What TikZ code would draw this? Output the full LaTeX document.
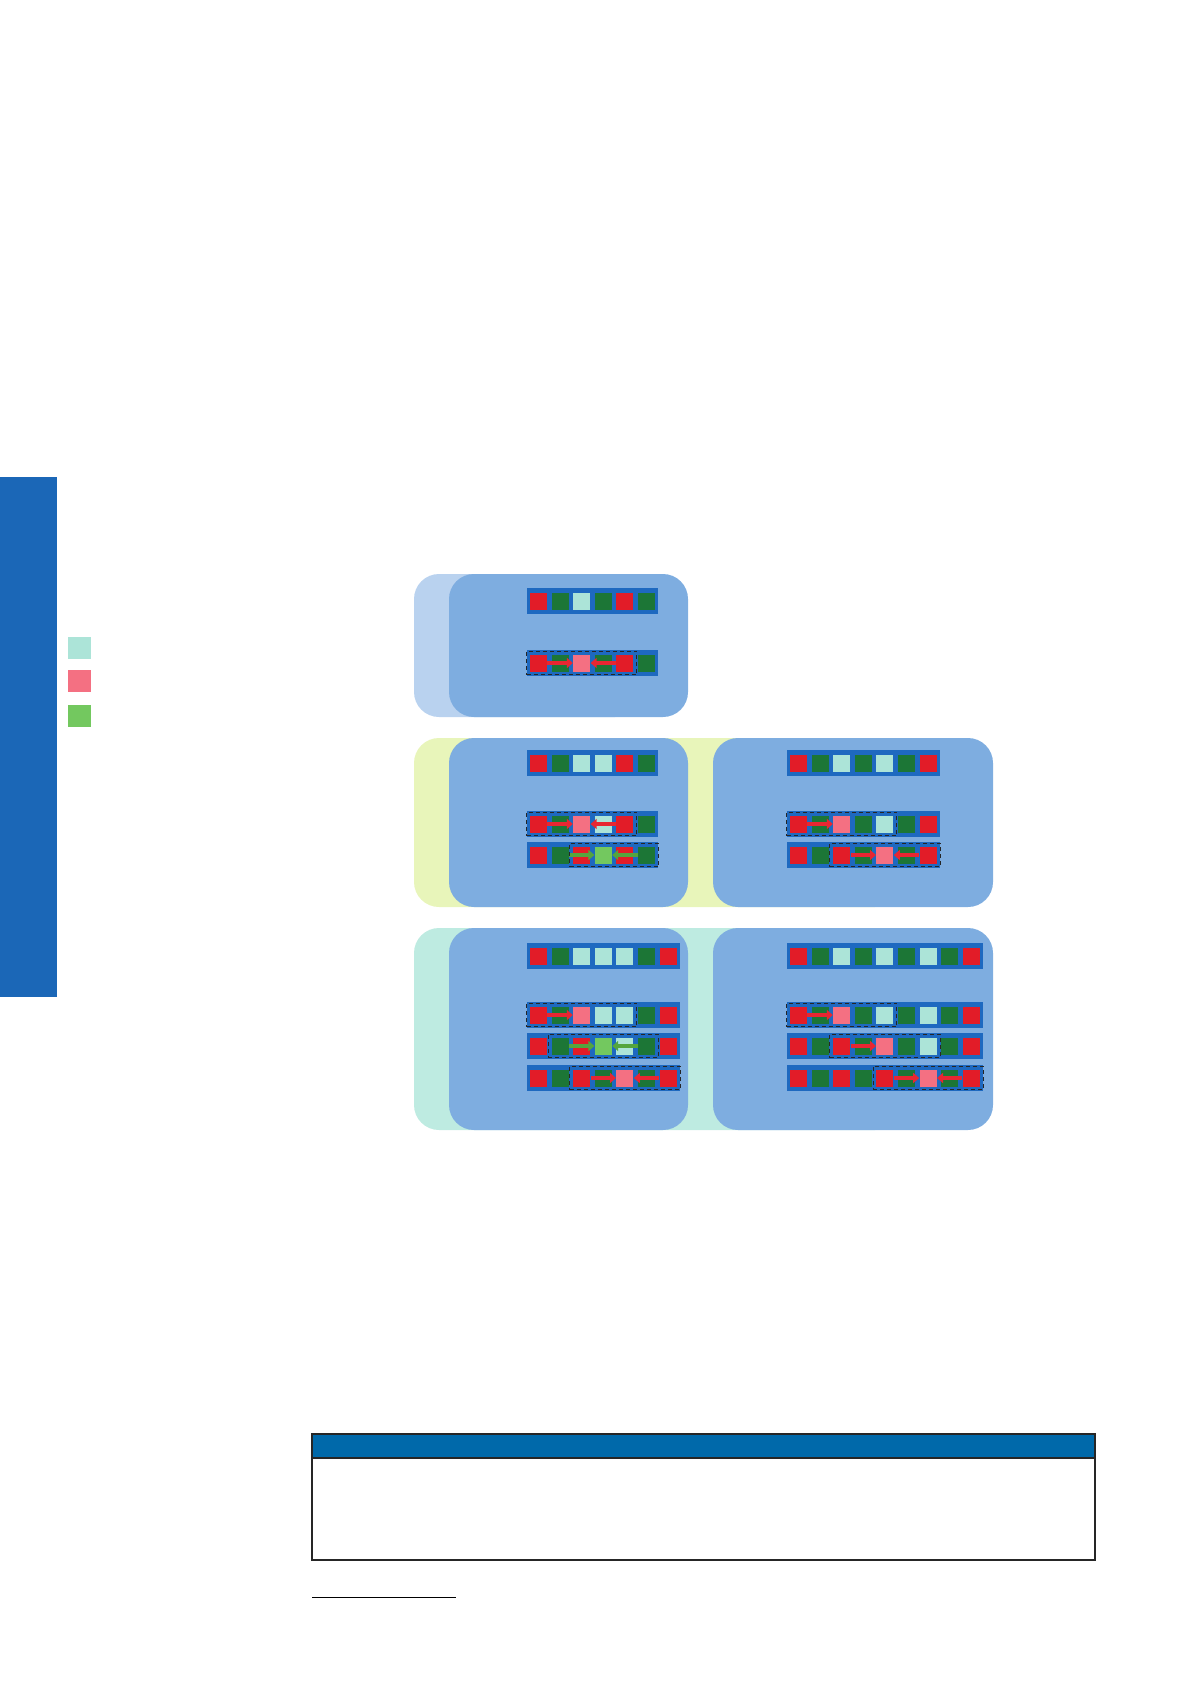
\documentclass[tikz,border=0pt]{standalone}
\usepackage{tikz}
\usetikzlibrary{arrows.meta,fit}

\definecolor{sideblue}{RGB}{27,103,183}
\definecolor{outerblue}{RGB}{185,210,239}
\definecolor{outeryellow}{RGB}{232,245,186}
\definecolor{outermint}{RGB}{190,235,225}
\definecolor{panelblue}{RGB}{126,173,224}
\definecolor{barblue}{RGB}{30,105,192}
\definecolor{cr}{RGB}{226,28,40}
\definecolor{cg}{RGB}{28,118,54}
\definecolor{cc}{RGB}{172,228,216}
\definecolor{cp}{RGB}{244,112,130}
\definecolor{cl}{RGB}{115,200,95}
\definecolor{arrred}{RGB}{232,38,50}
\definecolor{arrgreen}{RGB}{84,165,62}
\definecolor{tablehead}{RGB}{0,105,170}

% one slot row: name, x, y, number of cells, cell colours
\newcommand{\slotrow}[5]{%
  \fill[barblue] (#2,#3) rectangle ++({#4*21.6+1.6},26);
  \foreach \c [count=\i] in {#5}
    \node[cell, fill=\c] (#1-\i) at ({#2+11.5+(\i-1)*21.6},#3+13) {};
}

\begin{document}
\begin{tikzpicture}[x=0.5pt, y=-0.5pt,
    cell/.style={rectangle, minimum size=8.5pt, inner sep=0pt},
    key/.style={rectangle, minimum width=11.5pt, minimum height=11pt, inner sep=0pt},
    panel/.style={rounded corners=12.5pt},
    redarr/.style={draw=arrred, line width=1.8pt, -{Triangle[length=3pt,width=5pt]}},
    greenarr/.style={draw=arrgreen, line width=1.8pt, -{Triangle[length=3pt,width=5pt]}},
    dashbox/.style={draw=black!85, dash pattern=on 2pt off 1.5pt, line width=0.5pt, inner sep=1.5pt}]
\useasboundingbox (0,0) rectangle (1191,1684);

% side tab and legend
\fill[sideblue] (0,477) rectangle (57,997);
\node[key, fill=cc] (key1) at (79.5,647.5) {};
\node[key, fill=cp] (key2) at (79.5,681) {};
\node[key, fill=cl] (key3) at (79.5,715.5) {};

% panels
\fill[outerblue, panel] (414,574) rectangle (640,717);
\fill[panelblue, panel] (449,574) rectangle (688,717);
\fill[outeryellow, panel] (414,738) rectangle (900,907);
\fill[panelblue, panel] (449,738) rectangle (688,907);
\fill[panelblue, panel] (713,738) rectangle (993,907);
\fill[outermint, panel] (414,928) rectangle (900,1130);
\fill[panelblue, panel] (449,928) rectangle (688,1130);
\fill[panelblue, panel] (713,928) rectangle (993,1130);

% top panel
\slotrow{A1}{527}{588}{6}{cr,cg,cc,cg,cr,cg}
\slotrow{A2}{527}{650}{6}{cr,cg,cp,cg,cr,cg}
\draw[redarr] (A2-1.east) -- (A2-3.west);
\draw[redarr] (A2-5.west) -- (A2-3.east);
\node[dashbox, fit=(A2-1)(A2-5)] (A2box) {};

% middle panels
\slotrow{Bl1}{527}{750}{6}{cr,cg,cc,cc,cr,cg}
\slotrow{Bl2}{527}{811}{6}{cr,cg,cp,cc,cr,cg}
\slotrow{Bl3}{527}{842}{6}{cr,cg,cr,cl,cr,cg}
\draw[redarr] (Bl2-1.east) -- (Bl2-3.west);
\draw[redarr] (Bl2-5.west) -- (Bl2-3.east);
\draw[greenarr] (Bl3-2.east) -- (Bl3-4.west);
\draw[greenarr] (Bl3-6.west) -- (Bl3-4.east);
\node[dashbox, fit=(Bl2-1)(Bl2-5)] (Bl2box) {};
\node[dashbox, fit=(Bl3-3)(Bl3-6)] (Bl3box) {};

\slotrow{Br1}{787}{750}{7}{cr,cg,cc,cg,cc,cg,cr}
\slotrow{Br2}{787}{811}{7}{cr,cg,cp,cg,cc,cg,cr}
\slotrow{Br3}{787}{842}{7}{cr,cg,cr,cg,cp,cg,cr}
\draw[redarr] (Br2-1.east) -- (Br2-3.west);
\draw[redarr] (Br3-3.east) -- (Br3-5.west);
\draw[redarr] (Br3-7.west) -- (Br3-5.east);
\node[dashbox, fit=(Br2-1)(Br2-5)] (Br2box) {};
\node[dashbox, fit=(Br3-3)(Br3-7)] (Br3box) {};

% bottom panels
\slotrow{Cl1}{527}{943}{7}{cr,cg,cc,cc,cc,cg,cr}
\slotrow{Cl2}{527}{1002}{7}{cr,cg,cp,cc,cc,cg,cr}
\slotrow{Cl3}{527}{1033}{7}{cr,cg,cr,cl,cc,cg,cr}
\slotrow{Cl4}{527}{1065}{7}{cr,cg,cr,cg,cp,cg,cr}
\draw[redarr] (Cl2-1.east) -- (Cl2-3.west);
\draw[greenarr] (Cl3-2.east) -- (Cl3-4.west);
\draw[greenarr] (Cl3-6.west) -- (Cl3-4.east);
\draw[redarr] (Cl4-3.east) -- (Cl4-5.west);
\draw[redarr] (Cl4-7.west) -- (Cl4-5.east);
\node[dashbox, fit=(Cl2-1)(Cl2-5)] (Cl2box) {};
\node[dashbox, fit=(Cl3-2)(Cl3-6)] (Cl3box) {};
\node[dashbox, fit=(Cl4-3)(Cl4-7)] (Cl4box) {};

\slotrow{Cr1}{787}{943}{9}{cr,cg,cc,cg,cc,cg,cc,cg,cr}
\slotrow{Cr2}{787}{1002}{9}{cr,cg,cp,cg,cc,cg,cc,cg,cr}
\slotrow{Cr3}{787}{1033}{9}{cr,cg,cr,cg,cp,cg,cc,cg,cr}
\slotrow{Cr4}{787}{1065}{9}{cr,cg,cr,cg,cr,cg,cp,cg,cr}
\draw[redarr] (Cr2-1.east) -- (Cr2-3.west);
\draw[redarr] (Cr3-3.east) -- (Cr3-5.west);
\draw[redarr] (Cr4-5.east) -- (Cr4-7.west);
\draw[redarr] (Cr4-9.west) -- (Cr4-7.east);
\node[dashbox, fit=(Cr2-1)(Cr2-5)] (Cr2box) {};
\node[dashbox, fit=(Cr3-3)(Cr3-7)] (Cr3box) {};
\node[dashbox, fit=(Cr4-5)(Cr4-9)] (Cr4box) {};

% table and footnote rule
\draw[fill=tablehead, draw=black!85, line width=0.6pt] (312,1434) rectangle (1095,1458);
\draw[draw=black!85, line width=0.6pt] (312,1458) rectangle (1095,1560);
\draw[line width=0.5pt] (312,1597) -- (456,1597);
\end{tikzpicture}
\end{document}
